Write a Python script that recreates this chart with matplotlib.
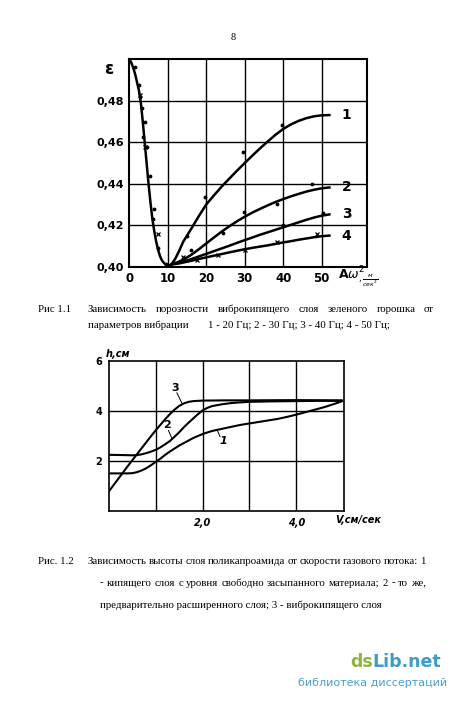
import matplotlib
matplotlib.use("Agg")
import matplotlib.pyplot as plt

# ---- Fig 1.1 : porosity vs vibration parameter ----
fall_x = [0, 0.5, 1, 1.5, 2, 2.5, 3, 3.5, 4, 4.5, 5, 5.5, 6, 6.5, 7, 7.5, 8, 8.5, 9, 9.5, 10, 10.5, 11]
fall_eps = [0.500, 0.4985, 0.496, 0.493, 0.489, 0.485, 0.479, 0.470, 0.460, 0.450, 0.440, 0.431,
            0.423, 0.417, 0.412, 0.408, 0.405, 0.403, 0.4018, 0.4010, 0.4006, 0.4006, 0.4012]

rise_x = [11, 12, 13, 14, 16, 18, 20, 22, 24, 26, 28, 30, 32, 34, 36, 38, 40, 42, 44, 46, 48, 50, 52]
eps_1 = [0.4012, 0.4040, 0.4078, 0.4120, 0.4180, 0.4242, 0.4300, 0.4344, 0.4386, 0.4425, 0.4463,
         0.4500, 0.4536, 0.4571, 0.4604, 0.4636, 0.4664, 0.4686, 0.4703, 0.4716, 0.4725, 0.4730, 0.4731]
eps_2 = [0.4012, 0.4018, 0.4025, 0.4034, 0.4056, 0.4083, 0.4112, 0.4141, 0.4169, 0.4195, 0.4219,
         0.4241, 0.4261, 0.4279, 0.4296, 0.4312, 0.4326, 0.4339, 0.4351, 0.4362, 0.4371, 0.4378, 0.4382]
eps_3 = [0.4012, 0.4015, 0.4019, 0.4024, 0.4036, 0.4049, 0.4062, 0.4075, 0.4088, 0.4101, 0.4115,
         0.4128, 0.4141, 0.4154, 0.4166, 0.4178, 0.4190, 0.4202, 0.4214, 0.4226, 0.4237, 0.4246, 0.4252]
eps_4 = [0.4012, 0.4013, 0.4016, 0.4020, 0.4028, 0.4037, 0.4045, 0.4053, 0.4061, 0.4069, 0.4077,
         0.4084, 0.4091, 0.4097, 0.4103, 0.4110, 0.4117, 0.4123, 0.4130, 0.4136, 0.4142, 0.4147, 0.4150]
curve_names_1 = ["1", "2", "3", "4"]

dots_x = [1.5, 2.6, 2.9, 3.2, 3.6, 4.0, 4.5, 5.5, 6.2, 6.5, 7.5, 9.5,
          15.0, 19.7, 29.6, 39.6, 24.4, 29.9, 38.3, 47.4, 50.4, 40.0, 16.0]
dots_y = [0.4965, 0.4875, 0.482, 0.4765, 0.4625, 0.470, 0.4575, 0.4435, 0.423, 0.428, 0.409, 0.4015,
          0.4148, 0.4337, 0.4555, 0.4683, 0.4164, 0.4265, 0.4302, 0.4397, 0.4257, 0.420, 0.408]
cross_x = [2.8, 4.1, 7.5, 14.0, 17.5, 23.0, 30.0, 38.3, 48.7]
cross_y = [0.483, 0.4578, 0.416, 0.4048, 0.4032, 0.4056, 0.408, 0.412, 0.4156]

x_ticks_1 = [0, 10, 20, 30, 40, 50]
y_ticks_1 = [0.40, 0.42, 0.44, 0.46, 0.48]
y_labels_1 = ["0,40", "0,42", "0,44", "0,46", "0,48"]

# ---- Fig 1.2 : bed height vs gas velocity ----
v_1 = [0, 0.2, 0.4, 0.5, 0.6, 0.7, 0.8, 0.9, 1.0, 1.1, 1.2, 1.3, 1.4, 1.5, 1.6, 1.7, 1.8, 1.9,
       2.0, 2.2, 2.4, 2.6, 2.8, 3.0, 3.2, 3.4, 3.6, 3.8, 4.0, 4.2, 4.4, 4.6, 4.8, 4.97]
h_1 = [1.51, 1.51, 1.51, 1.52, 1.56, 1.63, 1.72, 1.84, 1.97, 2.10, 2.25, 2.38, 2.50, 2.62, 2.72,
       2.82, 2.92, 3.00, 3.08, 3.20, 3.28, 3.36, 3.44, 3.50, 3.56, 3.62, 3.68, 3.76, 3.85, 3.95,
       4.05, 4.15, 4.27, 4.38]
v_2 = [0, 0.3, 0.5, 0.6, 0.7, 0.8, 0.9, 1.0, 1.1, 1.2, 1.3, 1.4, 1.5, 1.6, 1.7, 1.8, 1.9, 2.0,
       2.1, 2.2, 2.4, 2.6, 2.8, 3.0, 3.5, 4.0, 4.5, 4.97]
h_2 = [2.25, 2.24, 2.23, 2.24, 2.27, 2.32, 2.38, 2.45, 2.55, 2.67, 2.80, 2.97, 3.15, 3.35, 3.53,
       3.70, 3.87, 4.02, 4.12, 4.19, 4.26, 4.31, 4.34, 4.36, 4.38, 4.39, 4.40, 4.40]
v_3 = [0, 0.1, 0.2, 0.3, 0.4, 0.5, 0.6, 0.7, 0.8, 0.9, 1.0, 1.1, 1.2, 1.3, 1.4, 1.5, 1.6, 1.7,
       1.8, 2.0, 2.5, 3.0, 4.0, 4.97]
h_3 = [0.80, 1.05, 1.30, 1.55, 1.80, 2.04, 2.28, 2.52, 2.76, 3.00, 3.23, 3.45, 3.67, 3.87, 4.05,
       4.20, 4.30, 4.36, 4.39, 4.41, 4.42, 4.42, 4.43, 4.42]

x_ticks_2 = [2.0, 4.0]
x_labels_2 = ["2,0", "4,0"]
y_ticks_2 = [2, 4, 6]

cap1 = [
    ("Рис 1.1", "Зависимость порозности виброкипящего слоя зеленого горошка от", True),
    ("", "параметров вибрации", False),
]
cap2 = [
    ("Рис. 1.2", "Зависимость высоты слоя поликапроамида от скорости газового потока: 1", True),
    ("", "- кипящего слоя с уровня свободно засыпанного материала; 2 - то же,", True),
    ("", "предварительно расширенного слоя; 3 - виброкипящего слоя", False),
]

W, H = 450, 704
fig = plt.figure(figsize=(W / 100, H / 100), dpi=100)
fig.patch.set_facecolor("white")
lab_font = dict(family=["Liberation Sans Narrow", "DejaVu Sans"], weight="bold")
serif = dict(family=["Liberation Serif", "DejaVu Serif"])
CAP = 7.8


def px(x, y):
    return x / W, 1 - y / H


# ---------- chart 1 ----------
ax1 = fig.add_axes([129.3 / W, 1 - 266.7 / H, 237.4 / W, 207.4 / H])
ax1.set_xlim(0, 61.7)
ax1.set_ylim(0.40, 0.50)
for gx in [10, 20, 30, 40, 50]:
    ax1.axvline(gx, color="black", lw=1.0)
for gy in [0.42, 0.44, 0.46, 0.48]:
    ax1.axhline(gy, color="black", lw=1.0)
ax1.plot(fall_x, fall_eps, color="black", lw=1.8)
for ys, nm in zip([eps_1, eps_2, eps_3, eps_4], curve_names_1):
    ax1.plot(rise_x, ys, color="black", lw=1.8)
    ax1.text(55.2, ys[-1], nm, ha="left", va="center", fontsize=10, **lab_font)
ax1.plot(dots_x, dots_y, ".", color="black", ms=3.5)
ax1.plot(cross_x, cross_y, "x", color="black", ms=3, mew=0.9)
ax1.set_xticks(x_ticks_1)
ax1.set_xticklabels([str(t) for t in x_ticks_1], fontsize=8.5, **lab_font)
ax1.set_yticks(y_ticks_1)
ax1.set_yticklabels(y_labels_1, fontsize=8, **lab_font)
ax1.tick_params(length=0, pad=4)
for sp in ax1.spines.values():
    sp.set_linewidth(1.5)
fig.text(*px(338, 277), r"A$\omega^{2}_{,\frac{м}{сек^{2}}}$", ha="left", va="center",
         fontsize=9, **lab_font)
fig.text(*px(104, 69), "ε", fontsize=12, weight="bold", ha="left", va="center")

# ---------- chart 2 ----------
ax2 = fig.add_axes([109 / W, 1 - 511.3 / H, 235 / W, 150.6 / H])
ax2.set_xlim(0, 5.02)
ax2.set_ylim(0, 6)
for gx in [1, 2, 3, 4]:
    ax2.axvline(gx, color="black", lw=1.0)
for gy in [2, 4]:
    ax2.axhline(gy, color="black", lw=1.0)
ax2.plot(v_1, h_1, color="black", lw=1.5)
ax2.plot(v_2, h_2, color="black", lw=1.5)
ax2.plot(v_3, h_3, color="black", lw=1.5)
ax2.plot([1.45, 1.56], [4.72, 4.3], color="black", lw=0.7)
ax2.text(1.41, 4.9, "3", ha="center", va="center", fontsize=8, **lab_font)
ax2.plot([1.27, 1.34], [3.22, 2.92], color="black", lw=0.7)
ax2.text(1.24, 3.45, "2", ha="center", va="center", fontsize=8, **lab_font)
ax2.plot([2.37, 2.32], [2.98, 3.2], color="black", lw=0.7)
ax2.text(2.44, 2.8, "1", ha="center", va="center", fontsize=8, style="italic", **lab_font)
ax2.set_xticks(x_ticks_2)
ax2.set_xticklabels(x_labels_2, fontsize=7, style="italic", **lab_font)
ax2.set_yticks(y_ticks_2)
ax2.set_yticklabels([str(t) for t in y_ticks_2], fontsize=7, **lab_font)
ax2.tick_params(length=0, pad=5)
for sp in ax2.spines.values():
    sp.set_linewidth(1.2)
fig.text(*px(335, 520), "V,см/сек", fontsize=7, style="italic", ha="left", va="center", **lab_font)
fig.text(*px(106, 354), "h,см", fontsize=7, style="italic", ha="left", va="center", **lab_font)

# ---------- page text ----------
fig.text(*px(233, 37), "8", fontsize=7.5, ha="center", va="center", **serif)

renderer = fig.canvas.get_renderer()


def text_line(words, x0, x1, y, justify, size=CAP):
    parts = words.split(" ")
    if not justify:
        fig.text(*px(x0, y), words, fontsize=size, ha="left", va="center", **serif)
        return
    objs = [fig.text(0, 0, w, fontsize=size, ha="left", va="center", **serif) for w in parts]
    widths = [o.get_window_extent(renderer).width for o in objs]
    gap = (x1 - x0 - sum(widths)) / (len(parts) - 1)
    x = x0
    for o, w in zip(objs, widths):
        o.set_position(px(x, y))
        x += w + gap


for i, (lead, line, just) in enumerate(cap1):
    y = 309 + 16 * i
    if lead:
        fig.text(*px(38, y), lead, fontsize=CAP, ha="left", va="center", **serif)
    text_line(line, 88, 434, y, just)
fig.text(*px(208, 325), "1 - 20 Гц; 2 - 30 Гц; 3 - 40 Гц; 4 - 50 Гц;", fontsize=CAP,
         ha="left", va="center", **serif)

for i, (lead, line, just) in enumerate(cap2):
    y = 561 + 22 * i
    if lead:
        fig.text(*px(38, y), lead, fontsize=CAP, ha="left", va="center", **serif)
    x0 = 88 if i == 0 else 100
    text_line(line, x0, 426, y, just)

# watermark
wm = fig.text(*px(350, 662), "ds", fontsize=12.5, weight="bold", color="#8db33f",
              ha="left", va="center", family="DejaVu Sans")
wm_w = wm.get_window_extent(renderer).width
fig.text(*px(350 + wm_w, 662), "Lib.net", fontsize=12.5, weight="bold", color="#3f9cc9",
         ha="left", va="center", family="DejaVu Sans")
fig.text(*px(447, 683), "библиотека диссертаций", fontsize=8, color="#4a9fd0",
         ha="right", va="center", family="DejaVu Sans")

fig.savefig("out.png", dpi=100, facecolor="white")
